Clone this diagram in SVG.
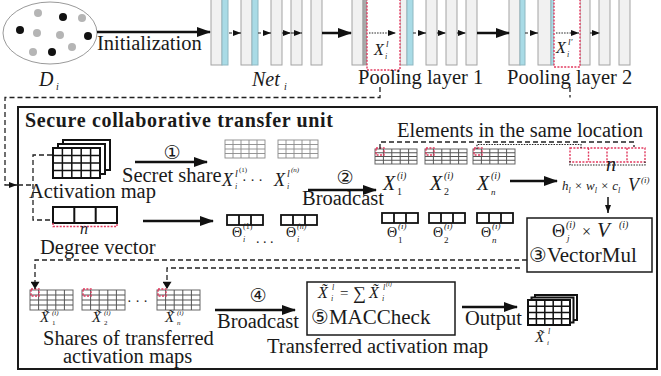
<svg xmlns="http://www.w3.org/2000/svg" xmlns:xlink="http://www.w3.org/1999/xlink" width="661" height="376" viewBox="0 0 661 376">
<style>
text{font-family:"Liberation Serif","DejaVu Serif",serif;fill:#1a1a1a}
.t{font-size:20.5px}
.m{font-style:italic}
.c{font-family:"DejaVu Sans","Noto Sans CJK SC",sans-serif}
.lay{fill:#f1f1f1;stroke:#a3a3a3;stroke-width:1}
.blu{fill:#a9dbe6;stroke:#8fb8c2;stroke-width:1}
.red{fill:none;stroke:#e23a5f;stroke-width:1.4;stroke-dasharray:2 1.4}
.redw{fill:#fff;stroke:#e23a5f;stroke-width:1.4;stroke-dasharray:2 1.4}
.sol{fill:none;stroke:#111;stroke-width:2.5}
.dsh{fill:none;stroke:#222;stroke-width:1.3;stroke-dasharray:5 3}
.dl{fill:none;stroke:#222;stroke-width:1.2;stroke-dasharray:3 2}
.dot{fill:none;stroke:#222;stroke-width:1.2;stroke-dasharray:1.5 1.2}
.thin{fill:none;stroke:#111;stroke-width:1.5}
</style>
<defs>
<marker id="big" viewBox="0 0 14 10" refX="13" refY="5" markerWidth="14" markerHeight="10" markerUnits="userSpaceOnUse" orient="auto"><path d="M0,0L14,5L0,10z" fill="#111"/></marker>
<marker id="sm" viewBox="0 0 8 6" refX="8" refY="3" markerWidth="8" markerHeight="6" markerUnits="userSpaceOnUse" orient="auto"><path d="M0,0L8,3L0,6z" fill="#111"/></marker>
<marker id="md" viewBox="0 0 8 10" refX="8" refY="5" markerWidth="8" markerHeight="9" markerUnits="userSpaceOnUse" orient="auto"><path d="M0,0L8,5L0,10z" fill="#111"/></marker>
<g id="gA"><rect width="47" height="30" fill="#fff" stroke="#111" stroke-width="2"/><path d="M9.4 0V30M18.8 0V30M28.2 0V30M37.6 0V30M0 7.5H47M0 15H47M0 22.5H47" stroke="#111" stroke-width="1.5"/></g>
<rect id="bA" width="47" height="30" fill="#fff" stroke="#111" stroke-width="2"/>
<g id="gG"><rect width="40" height="18" fill="#fff" stroke="#8a8a8a" stroke-width="0.9"/><path d="M8 0V18M16 0V18M24 0V18M32 0V18M0 4.5H40M0 9H40M0 13.5H40" stroke="#8a8a8a" stroke-width="0.9"/></g>
<g id="gB"><rect width="42" height="15" fill="#fff" stroke="#666" stroke-width="1"/><path d="M8.4 0V15M16.8 0V15M25.2 0V15M33.6 0V15M0 3.75H42M0 7.5H42M0 11.25H42" stroke="#555" stroke-width="1"/></g>
<g id="gC"><rect width="43" height="20" fill="#fff" stroke="#666" stroke-width="1"/><path d="M8.6 0V20M17.2 0V20M25.8 0V20M34.4 0V20M0 5H43M0 10H43M0 15H43" stroke="#555" stroke-width="1"/></g>
<g id="gO"><rect width="42" height="25" fill="#fff" stroke="#111" stroke-width="2"/><path d="M8.4 0V25M16.8 0V25M25.2 0V25M33.6 0V25M0 6.25H42M0 12.5H42M0 18.75H42" stroke="#111" stroke-width="1.5"/></g>
<rect id="bO" width="42" height="25" fill="#fff" stroke="#111" stroke-width="2"/>
<g id="v3"><rect width="36" height="10" fill="#fff" stroke="#111" stroke-width="1.8"/><path d="M12 0V10M24 0V10" stroke="#111" stroke-width="1.8"/></g>
</defs>

<!-- dataset -->
<g id="dataset">
<ellipse cx="50" cy="33" rx="47" ry="31" fill="#fff" stroke="#9a9a9a" stroke-width="1"/>
<g fill="#111"><circle cx="20" cy="30" r="4"/><circle cx="63" cy="17" r="4"/><circle cx="88" cy="36" r="4"/><circle cx="52" cy="52" r="4"/></g>
<g fill="#b5b5b5"><circle cx="38" cy="13" r="4"/><circle cx="82" cy="18" r="4"/><circle cx="37" cy="33" r="4"/><circle cx="60" cy="35" r="4"/><circle cx="33" cy="52" r="4"/><circle cx="72" cy="47" r="4"/></g>
<text class="m" x="39" y="86" font-size="20">D</text><text class="m" x="56" y="90" font-size="10">i</text>
</g>

<!-- network -->
<g id="net">
<rect class="lay" x="211" y="-2" width="11" height="67"/><rect class="blu" x="222" y="-2" width="6" height="67"/>
<rect class="lay" x="241" y="-2" width="11" height="67"/><rect class="blu" x="252" y="-2" width="6" height="67"/>
<rect class="lay" x="271" y="-2" width="11" height="67"/>
<rect class="lay" x="291" y="-2" width="11" height="67"/>
<rect class="lay" x="311" y="-2" width="11" height="67"/>
<rect class="lay" x="352" y="-2" width="11" height="67"/><rect x="363" y="-2" width="4" height="67" fill="#a8a8a8" stroke="#999" stroke-width="0.8"/>
<rect class="lay" x="400" y="-2" width="7" height="67"/><rect class="blu" x="407" y="-2" width="6" height="67"/>
<rect class="lay" x="426" y="-2" width="11" height="67"/>
<rect class="lay" x="446" y="-2" width="11" height="67"/>
<rect class="lay" x="466" y="-2" width="11" height="67"/>
<rect class="lay" x="509" y="-2" width="11" height="67"/><rect class="blu" x="520" y="-2" width="5" height="67"/>
<rect class="lay" x="538" y="-2" width="13" height="67"/><rect class="blu" x="551" y="-2" width="3" height="67"/>
<rect class="lay" x="580" y="-2" width="10" height="67"/>
<rect class="lay" x="599" y="-2" width="11" height="67"/>
<rect class="lay" x="619" y="-2" width="11" height="67"/>
<text class="m" x="252" y="86" font-size="20">Net</text><text class="m" x="284" y="90" font-size="10">i</text>
</g>
<g id="pool1">
<rect class="redw" x="367" y="-2" width="33" height="72"/>
<text class="m" x="374" y="55" font-size="16">X</text><text class="m" x="385" y="59" font-size="8">i</text><text class="m" x="386" y="47" font-size="9">l</text>
<text class="t" x="358" y="84">Pooling layer 1</text>
</g>
<g id="pool2">
<rect class="redw" x="554" y="-2" width="26" height="69"/>
<text class="m" x="556" y="53" font-size="16">X</text><text class="m" x="567" y="57" font-size="8">i</text><text class="m" x="568" y="45" font-size="9">l'</text>
<text class="t" x="507" y="84">Pooling layer 2</text>
</g>

<!-- secure unit -->
<g id="unit">
<rect x="18" y="107" width="639" height="262" fill="none" stroke="#1a1a1a" stroke-width="2"/>
<text x="25" y="127" font-size="20" font-weight="bold" textLength="308" lengthAdjust="spacing">Secure collaborative transfer unit</text>
</g>

<g id="actmap">
<use xlink:href="#bA" x="63" y="140"/><use xlink:href="#bA" x="58" y="144"/><use xlink:href="#gA" x="53" y="148"/>
<text class="t" x="29" y="198">Activation map</text>
</g>
<g id="degree">
<rect x="53" y="207" width="64" height="16" fill="#fff" stroke="#111" stroke-width="2"/><path d="M74.3 207V223M95.7 207V223" stroke="#111" stroke-width="2"/>
<path class="red" d="M53 223V226.5H117V223"/>
<text class="m" x="80" y="234" font-size="16">n</text>
<text class="t" x="40" y="254">Degree vector</text>
</g>

<g id="shares">
<use xlink:href="#gG" x="225" y="140"/><use xlink:href="#gG" x="278" y="140"/>
<text class="m" x="222" y="186" font-size="18">X</text><text class="m" x="235" y="189" font-size="8">i</text><text class="m" x="235" y="177" font-size="10">l</text><text x="239" y="172" font-size="7">(1)</text>
<text x="242" y="185" font-size="14">· · ·</text>
<text class="m" x="274" y="186" font-size="18">X</text><text class="m" x="287" y="189" font-size="8">i</text><text class="m" x="287" y="177" font-size="10">l</text><text class="m" x="291" y="172" font-size="7">(n)</text>
</g>
<g id="thetas1">
<use xlink:href="#v3" x="227" y="215"/><use xlink:href="#v3" x="281" y="215"/>
<text x="232" y="237" font-size="14">Θ</text><text class="m" x="243" y="242" font-size="8">i</text><text x="243" y="229" font-size="8">(1)</text>
<text x="256" y="243" font-size="14">. . .</text>
<text x="286" y="237" font-size="14">Θ</text><text class="m" x="297" y="242" font-size="8">i</text><text class="m" x="297" y="229" font-size="8">(n)</text>
</g>

<g id="xgrids">
<use xlink:href="#gB" x="375" y="149"/><use xlink:href="#gB" x="425" y="149"/><use xlink:href="#gB" x="473" y="149"/>
<rect class="red" x="376" y="148" width="8" height="7"/><rect class="red" x="426" y="148" width="8" height="7"/><rect class="red" x="474" y="148" width="8" height="7"/>
<text class="m" x="383" y="190" font-size="20">X</text><text x="397" y="195" font-size="10">1</text><text class="m" x="397" y="179" font-size="10">(i)</text>
<text class="m" x="430" y="190" font-size="20">X</text><text x="444" y="195" font-size="10">2</text><text class="m" x="444" y="179" font-size="10">(i)</text>
<text class="m" x="477" y="190" font-size="20">X</text><text class="m" x="491" y="195" font-size="9">n</text><text class="m" x="491" y="179" font-size="10">(i)</text>
<text class="t" x="397" y="137">Elements in the same location</text>
</g>
<g id="vvec">
<rect class="red" x="570" y="148" width="75" height="14"/><path class="red" d="M588.5 148V162M607 148V162M627 148V162"/>
<path class="dot" d="M570 161V165H645V161"/>
<text class="m" x="606" y="171" font-size="20">n</text>
<text class="m" x="562" y="190" font-size="13">h<tspan font-size="8" dy="3">l</tspan><tspan dy="-3"> × w</tspan><tspan font-size="8" dy="3">l</tspan><tspan dy="-3"> × c</tspan><tspan font-size="8" dy="3">l</tspan></text>
<text class="m" x="628" y="191" font-size="18">V</text><text class="m" x="641" y="183" font-size="9">(i)</text>
</g>
<g id="thetas2">
<use xlink:href="#v3" x="382" y="213"/><use xlink:href="#v3" x="429" y="213"/><use xlink:href="#v3" x="477" y="213"/>
<text x="387" y="237" font-size="14">Θ</text><text x="398" y="243" font-size="9">1</text><text class="m" x="398" y="229" font-size="9">(i)</text>
<text x="433" y="237" font-size="14">Θ</text><text x="444" y="243" font-size="9">2</text><text class="m" x="444" y="229" font-size="9">(i)</text>
<text x="481" y="237" font-size="14">Θ</text><text class="m" x="492" y="243" font-size="9">n</text><text class="m" x="492" y="229" font-size="9">(i)</text>
</g>
<g id="vectormul">
<rect x="527" y="218" width="125" height="54" fill="#fff" stroke="#1a1a1a" stroke-width="1.5"/>
<text x="552" y="237" font-size="18">Θ</text><text class="m" x="566" y="228" font-size="10">(i)</text><text class="m" x="567" y="241" font-size="9">j</text>
<text x="582" y="237" font-size="16">×</text><text class="m" x="597" y="237" font-size="21">V</text><text class="m" x="619" y="228" font-size="10">(i)</text>
<text x="529" y="262" font-size="21"><tspan class="c" font-size="20">③</tspan>VectorMul</text>
</g>

<g id="tshares">
<use xlink:href="#gC" x="30" y="290"/><use xlink:href="#gC" x="82" y="290"/><use xlink:href="#gC" x="157" y="290"/>
<rect class="red" x="31" y="289" width="8" height="7"/><rect class="red" x="83" y="289" width="8" height="7"/><rect class="red" x="158" y="289" width="8" height="7"/>
<text x="127" y="306" font-size="14">· · ·</text>
<text class="m" x="40" y="322" font-size="15">X̃</text><text x="52" y="325" font-size="7">1</text><text class="m" x="52" y="315" font-size="7">(i)</text>
<text class="m" x="92" y="322" font-size="15">X̃</text><text x="104" y="325" font-size="7">2</text><text class="m" x="104" y="315" font-size="7">(i)</text>
<text class="m" x="165" y="322" font-size="15">X̃</text><text class="m" x="177" y="325" font-size="7">n</text><text class="m" x="177" y="315" font-size="7">(i)</text>
<text class="t" x="43" y="345">Shares of transferred</text>
<text class="t" x="63" y="363">activation maps</text>
</g>
<g id="maccheck">
<rect x="307" y="282" width="148" height="53" fill="#fff" stroke="#1a1a1a" stroke-width="1.5"/>
<text class="m" x="318" y="298" font-size="16">X̃</text><text class="m" x="331" y="301" font-size="8">i</text><text class="m" x="332" y="290" font-size="8">l</text>
<text x="340" y="298" font-size="15">=</text><text x="353" y="299" font-size="18">∑</text>
<text class="m" x="369" y="298" font-size="16">X̃</text><text class="m" x="382" y="301" font-size="8">i</text><text class="m" x="383" y="290" font-size="8">l</text><text class="m" x="386" y="286" font-size="6">(i)</text>
<text x="311" y="324" font-size="21"><tspan class="c" font-size="20">⑤</tspan>MACCheck</text>
<text class="t" x="267" y="353">Transferred activation map</text>
</g>
<g id="output">
<use xlink:href="#bO" x="535" y="295"/><use xlink:href="#bO" x="531.5" y="297.5"/><use xlink:href="#gO" x="528" y="300"/>
<text class="m" x="535" y="342" font-size="15">X̃</text><text class="m" x="547" y="345" font-size="7">i</text><text class="m" x="548" y="334" font-size="8">l</text>
</g>

<!-- connectors -->
<g id="connectors">
<path class="sol" d="M97 32H210" marker-end="url(#big)"/>
<text class="t" x="97" y="50">Initialization</text>
<path class="dl" d="M229 33H241" marker-end="url(#sm)"/>
<path class="dl" d="M258 33H271" marker-end="url(#sm)"/>
<path class="dl" d="M282 33H291" marker-end="url(#sm)"/>
<path class="dl" d="M291 33H302" marker-end="url(#sm)"/>
<path class="sol" d="M322 33H351" marker-end="url(#big)"/>
<path class="dot" d="M369 33H396" marker-end="url(#sm)"/>
<path class="dl" d="M413 33H426" marker-end="url(#sm)"/>
<path class="dl" d="M437 33H446" marker-end="url(#sm)"/>
<path class="dl" d="M457 33H466" marker-end="url(#sm)"/>
<path class="sol" d="M477 33H509" marker-end="url(#big)"/>
<path class="dl" d="M525 33H538" marker-end="url(#sm)"/>
<path class="dot" d="M556 33H579" marker-end="url(#sm)"/>
<path class="dl" d="M590 33H600" marker-end="url(#sm)"/>

<path class="dsh" d="M380 87V97.5H5V185H17" marker-end="url(#sm)"/>
<path class="dsh" d="M570 87V97.5"/>
<path class="dsh" d="M18 185H32"/>
<path class="dsh" d="M52 155H33V220H53"/>

<path class="sol" d="M135 162H207" marker-end="url(#big)"/>
<text class="c" x="172" y="159" font-size="19" text-anchor="middle">①</text>
<text class="t" x="122" y="182">Secret share</text>

<path class="sol" d="M143 221H213" marker-end="url(#big)"/>

<path class="sol" d="M308 190H376" marker-end="url(#big)"/>
<text class="c" x="345" y="184" font-size="19" text-anchor="middle">②</text>
<text class="t" x="302" y="205">Broadcast</text>

<path class="dsh" d="M380 149V142H634V147"/>
<path class="dot" d="M477 149V144.5H581V148"/>

<path class="sol" d="M510 181H557" marker-end="url(#big)"/>
<path class="thin" d="M608 197V213" marker-end="url(#sm)"/>

<path class="dsh" d="M527 260H35V289" marker-end="url(#md)"/>
<path class="dsh" d="M520 268H167V289" marker-end="url(#md)"/>

<path class="sol" d="M215 310H295" marker-end="url(#big)"/>
<text class="c" x="258" y="302" font-size="19" text-anchor="middle">④</text>
<text class="t" x="217" y="328">Broadcast</text>

<path class="sol" d="M462 307H517" marker-end="url(#big)"/>
<text class="t" x="465" y="325">Output</text>
</g>
</svg>
